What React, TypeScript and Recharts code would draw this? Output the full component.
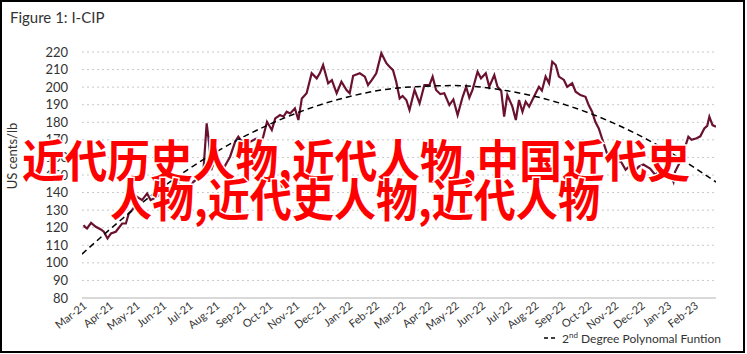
import React from "react";
import { LineChart, Line, XAxis, YAxis, CartesianGrid } from "recharts";

const MONTHS = [
  "Mar-21", "Apr-21", "May-21", "Jun-21", "Jul-21", "Aug-21", "Sep-21", "Oct-21",
  "Nov-21", "Dec-21", "Jan-22", "Feb-22", "Mar-22", "Apr-22", "May-22", "Jun-22",
  "Jul-22", "Aug-22", "Sep-22", "Oct-22", "Nov-22", "Dec-22", "Jan-23", "Feb-23",
];
const Y_TICKS = [80, 90, 100, 110, 120, 130, 140, 150, 160, 170, 180, 190, 200, 210, 220];

// time in months since 1 Mar 2021
const PRICE_T = [
  0.06, 0.11, 0.19, 0.34, 0.52, 0.71, 0.82, 0.96, 1.01, 1.09, 1.27, 1.51, 1.65, 1.76, 1.88,
  2.02, 2.07, 2.26, 2.45, 2.58, 2.82, 3.07, 3.26, 3.51, 3.71, 4.01, 4.19, 4.45, 4.57, 4.69,
  4.78, 4.86, 4.98, 5.13, 5.36, 5.57, 5.76, 5.88, 5.99, 6.18, 6.33, 6.58, 6.7, 6.82, 6.96,
  7.14, 7.27, 7.45, 7.58, 7.7, 7.83, 8.01, 8.14, 8.27, 8.45, 8.64, 8.83, 8.95, 9.07, 9.26,
  9.4, 9.58, 9.76, 9.95, 10.07, 10.2, 10.45, 10.64, 10.76, 10.9, 11.07, 11.26, 11.45, 11.57,
  11.7, 11.82, 11.95, 12.06, 12.2, 12.32, 12.51, 12.7, 12.88, 13.07, 13.19, 13.32, 13.48,
  13.63, 13.82, 13.97, 14.13, 14.32, 14.45, 14.57, 14.69, 14.88, 15.01, 15.19, 15.32, 15.51,
  15.63, 15.77, 15.88, 16.0, 16.19, 16.32, 16.44, 16.57, 16.69, 16.82, 17.0, 17.19, 17.3,
  17.44, 17.57, 17.69, 17.82, 17.94, 18.13, 18.25, 18.44, 18.57, 18.75, 18.94, 19.06, 19.19,
  19.31, 19.44, 19.56, 19.75, 19.89, 20.06, 20.26, 20.45, 20.63, 20.79, 20.94, 21.12, 21.37,
  21.57, 21.8, 21.99, 22.17, 22.25, 22.31, 22.5, 22.69, 22.81, 22.93, 23.12, 23.26, 23.41,
  23.52, 23.6, 23.72, 23.85,
];
const PRICE_V = [
  121.5, 120.5, 119.6, 122.8, 120.5, 119, 117.7, 113.9, 115, 116.7, 117.7, 122.4, 122.4, 128.1, 130,
  132.9, 137.6, 135.7, 139.5, 135.7, 137.6, 141.4, 140, 147.1, 144, 141.4, 146.1, 149, 152.8, 179.4,
  168, 152.8, 158, 155.6, 154.7, 160.4, 168.9, 171.8, 169.5, 168, 168.9, 170.9, 166, 172, 180.3,
  175.6, 182.2, 184.1, 183.2, 186, 185, 187.9, 181.3, 193.6, 196.5, 207.9, 205, 208, 212.6, 202.2,
  204, 196.5, 203.1, 198.4, 196.5, 206.5, 207.9, 206, 201.2, 204, 207.9, 219.3, 213.6, 211.6,
  209.7, 203.1, 193.6, 195, 192.7, 187, 198.4, 190.8, 201.2, 201.2, 206, 198.4, 196,
  196.5, 189.8, 193, 184.1, 194.5, 200.2, 194, 198.4, 208.8, 205, 207.9, 200.2, 206.9,
  200.2, 198, 183.2, 195.5, 188.9, 181.3, 192.7, 186, 191.7, 188.9, 194.5, 200.2, 198,
  206, 202.2, 214.5, 212.6, 206, 204.1, 200.2, 202.2, 197.4, 195.5, 194.5, 189.8, 186,
  180.3, 176.5, 170.9, 162.3, 160, 156.6, 158, 153, 155.6, 152, 154.7, 156, 153.7,
  150, 154, 151.8, 149, 146.1, 151.8, 157.5, 166, 171.8, 170, 170.9, 172, 176.5,
  178, 183.2, 178.4, 177.5,
];

const TREND_T = [0, 2, 4, 6, 8, 10, 12, 14, 16, 18, 20, 22, 23.85];
const TREND_V = [105, 131.1, 153.3, 171.1, 184.8, 194.4, 199.7, 200.9, 197.9, 190.8, 179.5, 164, 146];

const TITLE = "Figure 1: I-CIP";
const Y_LABEL = "US cents/lb";
const LEGEND_LABEL = ["2", "nd", " Degree Polynomal Funtion"];
const OVERLAY = ["近代历史人物,近代人物,中国近代史", "人物,近代史人物,近代人物"];

const priceData = PRICE_T.map((t, i) => ({ t, v: PRICE_V[i] }));
const trendData = TREND_T.map((t, i) => ({ t, v: TREND_V[i] }));

const FONT = "Lato, 'Open Sans', sans-serif";

const XTick = (props: any) => {
  const { x, y, payload } = props;
  return (
    <g transform={`translate(${x},${y})`}>
      <text
        x={0}
        y={0}
        dy={9}
        textAnchor="end"
        transform="rotate(-38)"
        fontSize={11}
        fill="#333"
        fontFamily={FONT}
      >
        {MONTHS[payload.value]}
      </text>
    </g>
  );
};

export default function App() {
  return (
    <div
      style={{
        position: "absolute",
        left: 0,
        top: 0,
        width: 747,
        height: 354,
        background: "#fff",
        fontFamily: FONT,
      }}
    >
      <LineChart
        width={747}
        height={354}
        margin={{ top: 52, right: 31, bottom: 6, left: 0 }}
      >
        <CartesianGrid vertical={false} stroke="#c8c8c8" strokeDasharray="2 3" />
        <XAxis
          type="number"
          dataKey="t"
          domain={[0, 23.85]}
          ticks={MONTHS.map((_, i) => i)}
          interval={0}
          allowDataOverflow
          height={50}
          tickLine={false}
          axisLine={{ stroke: "#d9d9d9", strokeWidth: 2 }}
          tick={<XTick />}
          tickMargin={0}
          tickSize={2}
        />
        <YAxis
          type="number"
          domain={[80, 220]}
          ticks={Y_TICKS}
          interval={0}
          width={82}
          axisLine={false}
          tickLine={false}
          tickSize={6}
          tickMargin={8}
          tick={{ fontSize: 13, fill: "#333", fontFamily: FONT }}
        />
        <Line
          data={priceData}
          dataKey="v"
          type="linear"
          stroke="#6a1130"
          strokeWidth={2.2}
          dot={false}
          activeDot={false}
          isAnimationActive={false}
        />
        <Line
          data={trendData}
          dataKey="v"
          type="monotone"
          stroke="#000"
          strokeWidth={1.5}
          strokeDasharray="6 4"
          dot={false}
          activeDot={false}
          isAnimationActive={false}
        />
      </LineChart>

      <div
        style={{
          position: "absolute",
          left: 10,
          top: 8,
          fontSize: 15,
          color: "#333",
          fontFamily: FONT,
        }}
      >
        {TITLE}
      </div>

      <div
        style={{
          position: "absolute",
          left: 12,
          top: 156,
          transform: "translate(-50%, -50%) rotate(-90deg)",
          fontSize: 13,
          color: "#333",
          whiteSpace: "nowrap",
          fontFamily: FONT,
        }}
      >
        {Y_LABEL}
      </div>

      <div
        style={{
          position: "absolute",
          right: 26,
          top: 330,
          fontSize: 12,
          color: "#333",
          whiteSpace: "nowrap",
          fontFamily: FONT,
          display: "flex",
          alignItems: "center",
        }}
      >
        <svg width={14} height={6} style={{ marginRight: 4 }}>
          <line x1={0} y1={3} x2={14} y2={3} stroke="#000" strokeWidth={1.5} strokeDasharray="4 3" />
        </svg>
        <span>
          {LEGEND_LABEL[0]}
          <sup style={{ fontSize: 8 }}>{LEGEND_LABEL[1]}</sup>
          {LEGEND_LABEL[2]}
        </span>
      </div>

      <svg
        width={747}
        height={354}
        style={{ position: "absolute", left: 0, top: 0, pointerEvents: "none" }}
      >
        <text
          x={22}
          y={178}
          textLength={668}
          lengthAdjust="spacingAndGlyphs"
          fontSize={45}
          fontWeight={700}
          fill="#ff0000"
          stroke="#fff"
          strokeWidth={3}
          paintOrder="stroke"
          fontFamily="'Noto Sans CJK SC', sans-serif"
        >
          {OVERLAY[0]}
        </text>
        <text
          x={110}
          y={217}
          textLength={490}
          lengthAdjust="spacingAndGlyphs"
          fontSize={45}
          fontWeight={700}
          fill="#ff0000"
          stroke="#fff"
          strokeWidth={3}
          paintOrder="stroke"
          fontFamily="'Noto Sans CJK SC', sans-serif"
        >
          {OVERLAY[1]}
        </text>
      </svg>

      <div
        style={{
          position: "absolute",
          left: 0,
          top: 0,
          width: 745,
          height: 353,
          border: "2px solid #000",
          boxSizing: "border-box",
          pointerEvents: "none",
        }}
      />
    </div>
  );
}
